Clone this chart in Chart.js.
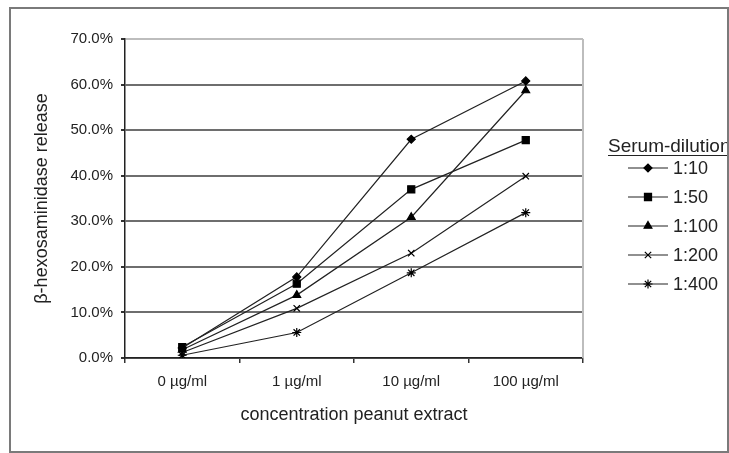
<!DOCTYPE html>
<html>
<head>
<meta charset="utf-8">
<script src="https://cdn.jsdelivr.net/npm/chart.js@4/dist/chart.umd.min.js"></script>
<style>
  body { margin: 0; background: #fff; }
  canvas { display: block; }
</style>
</head>
<body>
<canvas id="chart" width="729" height="453"></canvas>
<script>
const categories = ['0 µg/ml', '1 µg/ml', '10 µg/ml', '100 µg/ml'];
const seriesNames = ['1:10', '1:50', '1:100', '1:200', '1:400'];
const release_1_10 = [2.2, 17.8, 48.0, 60.8];
const release_1_50 = [2.4, 16.3, 37.0, 47.8];
const release_1_100 = [1.8, 13.8, 30.9, 58.7];
const release_1_200 = [1.2, 10.9, 23.0, 39.9];
const release_1_400 = [0.6, 5.6, 18.7, 31.9];
const yTicks = [0, 10, 20, 30, 40, 50, 60, 70];

const FONT = '"Liberation Sans", Arial, sans-serif';
const markers = [
    { style: 'rectRot', radius: 4 },
    { style: 'rect', radius: 5 },
    { style: 'triangle', radius: 4.5 },
    { style: 'crossRot', radius: 4.5 },
    { style: 'star', radius: 4.5 },
];
const allValues = [release_1_10, release_1_50, release_1_100, release_1_200, release_1_400];

// frame round the figure and the grey plot border on the right
const framePlugin = {
    id: 'frame',
    beforeDraw(chart) {
        const ctx = chart.ctx;
        ctx.save();
        ctx.fillStyle = '#fff';
        ctx.fillRect(0, 0, chart.width, chart.height);
        ctx.strokeStyle = '#7a7a7a';
        ctx.lineWidth = 2;
        ctx.strokeRect(10, 8, 718, 444);
        ctx.restore();
    },
    beforeDatasetsDraw(chart) {
        const { ctx, chartArea } = chart;
        ctx.save();
        ctx.strokeStyle = '#bdbdbd';
        ctx.lineWidth = 2;
        ctx.beginPath();
        ctx.moveTo(chartArea.right, chartArea.top);
        ctx.lineTo(chartArea.right, chartArea.bottom);
        ctx.stroke();
        ctx.restore();
    }
};

// legend drawn at the right, like the spreadsheet one
const legendPlugin = {
    id: 'sideLegend',
    afterDraw(chart) {
        const ctx = chart.ctx;
        ctx.save();
        ctx.beginPath();
        ctx.rect(0, 0, 727, chart.height);
        ctx.clip();
        ctx.fillStyle = '#222';
        ctx.font = '19px ' + FONT;
        ctx.textBaseline = 'alphabetic';
        ctx.textAlign = 'left';
        const title = 'Serum-dilution';
        ctx.fillText(title, 608, 152);
        const w = ctx.measureText(title).width;
        ctx.strokeStyle = '#222';
        ctx.lineWidth = 1;
        ctx.beginPath();
        ctx.moveTo(608, 155.5);
        ctx.lineTo(608 + w, 155.5);
        ctx.stroke();

        ctx.font = '18px ' + FONT;
        ctx.textBaseline = 'middle';
        chart.data.datasets.forEach((ds, i) => {
            const y = 168 + i * 29;
            ctx.strokeStyle = '#222';
            ctx.lineWidth = 1.2;
            ctx.beginPath();
            ctx.moveTo(628, y);
            ctx.lineTo(668, y);
            ctx.stroke();
            ctx.fillStyle = '#000';
            ctx.strokeStyle = '#000';
            Chart.helpers.drawPoint(ctx, {
                pointStyle: ds.pointStyle, radius: ds.pointRadius, rotation: 0, borderWidth: 1
            }, 648, y);
            ctx.fillStyle = '#222';
            ctx.fillText(ds.label, 673, y + 1);
        });
        ctx.restore();
    }
};

new Chart(document.getElementById('chart'), {
    type: 'line',
    data: {
        labels: categories,
        datasets: seriesNames.map((name, i) => ({
            label: name,
            data: allValues[i],
            borderColor: '#222',
            borderWidth: 1.2,
            pointStyle: markers[i].style,
            pointRadius: markers[i].radius,
            pointBackgroundColor: '#000',
            pointBorderColor: '#000',
            pointBorderWidth: 1.2,
            tension: 0,
        })),
    },
    options: {
        responsive: false,
        animation: false,
        layout: { padding: { left: 10, top: 39, right: 146, bottom: 0 } },
        plugins: {
            legend: { display: false },
            tooltip: { enabled: false },
        },
        scales: {
            x: {
                offset: true,
                afterFit(scale) { scale.height = 95; },
                grid: {
                    offset: true,
                    drawOnChartArea: false,
                    tickLength: 5,
                    tickColor: '#333',
                    lineWidth: 1.5,
                },
                border: { color: '#222', width: 1.5 },
                ticks: {
                    font: { family: FONT, size: 15 },
                    color: '#222',
                    padding: 10,
                    maxRotation: 0,
                },
                title: {
                    display: true,
                    text: 'concentration peanut extract',
                    font: { family: FONT, size: 18 },
                    color: '#222',
                    padding: { top: 0, bottom: 27 },
                },
            },
            y: {
                min: 0,
                max: 70,
                afterFit(scale) { scale.width = 115; },
                afterBuildTicks(scale) { scale.ticks = yTicks.map(v => ({ value: v })); },
                grid: {
                    color: c => c.tick && c.tick.value === 70 ? '#bdbdbd' : '#6e6e6e',
                    lineWidth: 2,
                    tickColor: '#333',
                    tickLength: 4,
                },
                border: { color: '#222', width: 1.5 },
                ticks: {
                    font: { family: FONT, size: 15 },
                    color: '#222',
                    padding: 8,
                    callback: v => v.toFixed(1) + '%',
                },
                title: {
                    display: true,
                    text: 'β-hexosaminidase release',
                    font: { family: FONT, size: 18 },
                    color: '#222',
                    padding: { top: 21, bottom: 0 },
                },
            },
        },
    },
    plugins: [framePlugin, legendPlugin],
});
</script>
</body>
</html>
